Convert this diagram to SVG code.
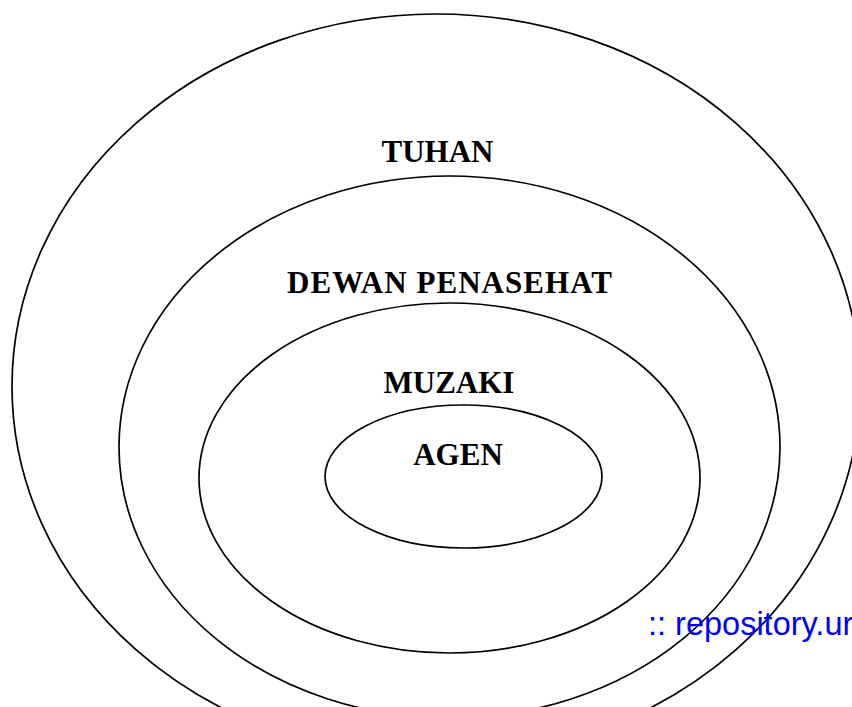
<svg xmlns="http://www.w3.org/2000/svg" width="852" height="707" viewBox="0 0 852 707">
<style>
.ring{fill:none;stroke:#000;stroke-width:1.7}
.lbl{font-family:"Liberation Serif","Times New Roman",serif;font-weight:bold;font-size:31px;fill:#000;text-anchor:middle}
.wm{font-family:"Liberation Sans",Arial,sans-serif;font-size:32.5px;fill:#0000ff}
</style>
<rect width="852" height="707" fill="#fff"/>
<g id="tuhan">
<ellipse class="ring" cx="436" cy="386.5" rx="424" ry="372.5"/>
<text class="lbl" x="437.5" y="162">TUHAN</text>
</g>
<g id="dewan-penasehat">
<ellipse class="ring" cx="449.5" cy="447" rx="330.5" ry="271"/>
<text class="lbl" x="449.5" y="293" textLength="325" lengthAdjust="spacing">DEWAN PENASEHAT</text>
</g>
<g id="muzaki">
<ellipse class="ring" cx="449.5" cy="478" rx="250.5" ry="175"/>
<text class="lbl" x="449" y="393">MUZAKI</text>
</g>
<g id="agen">
<ellipse class="ring" cx="463.5" cy="476.5" rx="138.5" ry="71.5"/>
<text class="lbl" x="458" y="465">AGEN</text>
</g>
<g id="connectors"></g>
<text class="wm" x="648" y="635">:: repository.ur</text>
</svg>
